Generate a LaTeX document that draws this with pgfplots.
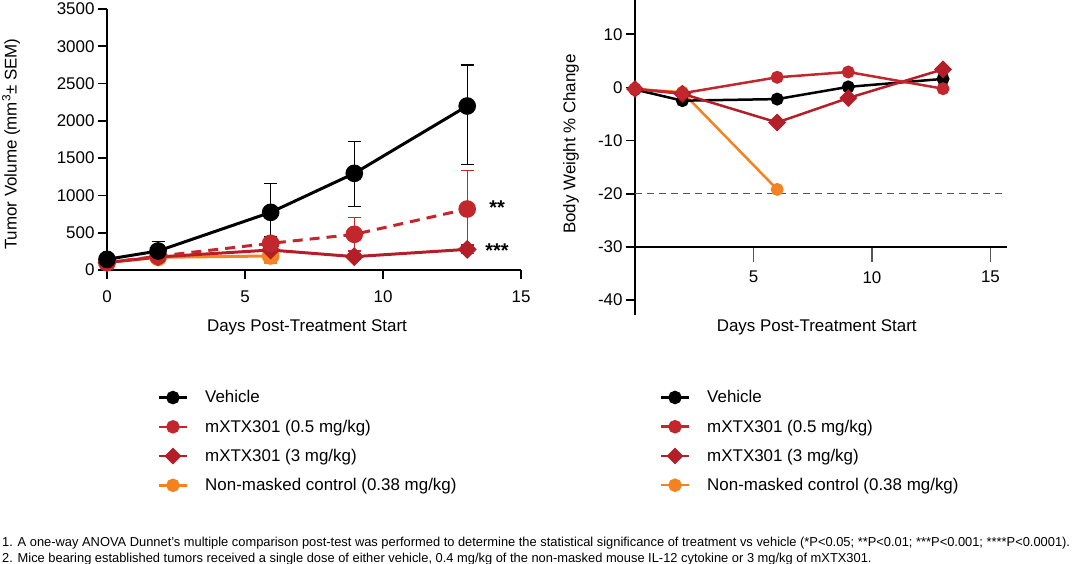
\documentclass[border=0pt]{standalone}
\usepackage{pgfplots}
\pgfplotsset{compat=1.18}
\usepackage{fontspec}
\setmainfont{Liberation Sans}
\usepackage{graphicx}

\definecolor{cred}{RGB}{193,39,45}
\definecolor{dred}{RGB}{180,30,40}
\definecolor{corange}{RGB}{245,130,32}
\definecolor{refgray}{RGB}{85,85,85}

\newcommand\mainfs{\fontsize{17}{20}\selectfont}
\newcommand\fnfs{\fontsize{13}{15}\selectfont}
\newcommand\fnone{1. A one-way ANOVA Dunnet’s multiple comparison post-test was performed to determine the statistical significance of treatment vs vehicle (*P<0.05; **P<0.01; ***P<0.001; ****P<0.0001).}
\newcommand\fntwo{2. Mice bearing established tumors received a single dose of either vehicle, 0.4 mg/kg of the non-masked mouse IL-12 cytokine or 3 mg/kg of mXTX301.}
\newlength\fnw

\pgfplotsset{
  base/.style={
    scale only axis,
    clip=false,
    font=\mainfs,
    axis line style={line width=1.6bp, black},
    tick style={line width=1.6bp, black},
    tick align=outside,
    major tick length=9bp,
  },
  ebar/.style={
    error bars/.cd, y dir=both, y explicit,
    error bar style={solid, line width=1.3bp, #1},
    error mark options={solid, rotate=90, mark size=6.5bp, line width=1.3bp, #1},
  },
  lgd/.style={
    legend cell align=left,
    legend style={draw=none, fill=none, font=\mainfs, inner sep=0pt,
      row sep=11.5bp, column sep=15bp, anchor=north west},
    legend image code/.code={\draw[mark repeat=2, mark phase=2, line width=2.5bp, ##1]
      plot coordinates {(0bp,0bp) (14bp,0bp) (28bp,0bp)};},
  },
}

\begin{document}
\settowidth\fnw{\fnfs\fnone}%
\pgfmathsetmacro\fnsx{1068bp/\fnw}%
\begin{tikzpicture}
\useasboundingbox (0,0) rectangle (1072bp,564bp);

% ---------------- tumour volume ----------------
\begin{axis}[base, lgd,
  at={(107bp,294bp)}, anchor=south west,
  width=414bp, height=261bp,
  xmin=0, xmax=15, ymin=0, ymax=3500,
  axis lines*=left,
  xtick={0,5,10,15}, xticklabels={0,5,10,15},
  xticklabel style={yshift=-8bp},
  ytick={0,500,1000,1500,2000,2500,3000,3500},
  yticklabels={0,500,1000,1500,2000,2500,3000,3500},
  legend style={at={(0.122,-0.454)}},
]
\addplot[corange, line width=3bp, mark=*, mark size=7.3bp, forget plot, ebar=corange]
  coordinates {(0,100) +- (0,15) (1.85,170) +- (0,30) (5.93,188) +- (0,95)};
\addplot[dred, line width=3bp, mark=square*, mark options={rotate=45}, mark size=5.2bp, forget plot, ebar=dred]
  coordinates {(0,100) +- (0,15) (1.85,175) +- (0,35) (5.93,268) +- (0,60) (8.96,179) +- (0,40) (13.05,277) +- (0,60)};
\addplot[cred, line width=3bp, dash pattern=on 10bp off 7bp, mark=*, mark size=7.3bp, mark options={solid}, forget plot, ebar=cred]
  coordinates {(0,98) +- (0,15) (1.85,185) +- (0,40) (5.93,358) +- (0,60) (8.96,478) +- (0,223) (13.05,818) +- (0,514)};
\addplot[black, line width=3bp, mark=*, mark size=7.3bp, forget plot, ebar=black]
  coordinates {(0,143) +- (0,20) (1.85,255) +- (0,125) (5.93,773) += (0,390) -= (0,326)
               (8.96,1296) += (0,425) -= (0,447) (13.05,2199) += (0,550) -= (0,782)};

\addlegendimage{black, mark=*, mark size=5.5bp}
\addlegendentry{Vehicle}
\addlegendimage{cred, mark=*, mark size=5.5bp}
\addlegendentry{mXTX301 (0.5 mg/kg)}
\addlegendimage{dred, mark=square*, mark options={rotate=45}, mark size=4.7bp}
\addlegendentry{mXTX301 (3 mg/kg)}
\addlegendimage{corange, mark=*, mark size=5.5bp}
\addlegendentry{Non-masked control (0.38 mg/kg)}
\end{axis}

% ---------------- body weight: y axis ----------------
\begin{axis}[base, lgd,
  at={(635bp,249bp)}, anchor=south west,
  width=372bp, height=315bp,
  xmin=0, xmax=15.7, ymin=-42.8, ymax=16.45,
  axis y line*=left, axis x line=none,
  xtick=\empty,
  ytick={-40,-30,-20,-10,0,10},
  yticklabels={-40,-30,-20,-10,0,10},
  legend style={at={(0.066,-0.233)}},
]
\addlegendimage{black, mark=*, mark size=5.5bp}
\addlegendentry{Vehicle}
\addlegendimage{cred, mark=*, mark size=5.5bp}
\addlegendentry{mXTX301 (0.5 mg/kg)}
\addlegendimage{dred, mark=square*, mark options={rotate=45}, mark size=4.7bp}
\addlegendentry{mXTX301 (3 mg/kg)}
\addlegendimage{corange, mark=*, mark size=5.5bp}
\addlegendentry{Non-masked control (0.38 mg/kg)}
\end{axis}

% ---------------- body weight: data and x axis ----------------
\begin{axis}[base,
  at={(635bp,317.2bp)}, anchor=south west,
  width=372bp, height=246.8bp,
  xmin=0, xmax=15.7, ymin=-30, ymax=16.45,
  axis x line*=bottom, axis y line=none,
  ytick=\empty,
  xtick={5,10,15}, xticklabels={5,10,15},
  xticklabel style={yshift=-6bp},
  major tick length=15bp,
  xtick style={line width=1.3bp, refgray},
]
\addplot[refgray, line width=1bp, dash pattern=on 7bp off 5bp] coordinates {(0,-20) (15.7,-20)};
\addplot[corange, line width=2.5bp, mark=*, mark size=5.2bp] coordinates {(0,-0.3) (2,-0.9) (6,-19.2)};
\addplot[black, line width=2.5bp, mark=*, mark size=5.2bp] coordinates {(0,-0.4) (2,-2.5) (6,-2.2) (9,0.1) (13,1.6)};
\addplot[dred, line width=2.5bp, mark=square*, mark options={rotate=45}, mark size=5.1bp] coordinates {(0,-0.3) (2,-1.2) (6,-6.6) (9,-2.0) (13,3.4)};
\addplot[cred, line width=2.5bp, mark=*, mark size=5.2bp] coordinates {(0,-0.3) (2,-1.1) (6,1.9) (9,2.9) (13,-0.25)};
\end{axis}

% ---------------- labels ----------------
\node[font=\mainfs] at (307bp,237bp) {Days Post-Treatment Start};
\node[font=\mainfs] at (816.7bp,236.7bp) {Days Post-Treatment Start};
\node[font=\mainfs, rotate=90] at (11bp,419.8bp) {Tumor Volume (mm\textsuperscript{3}± SEM)};
\node[font=\mainfs, rotate=90] at (571bp,419.8bp) {Body Weight \% Change};
\node[font=\fontsize{20}{22}\selectfont\bfseries, anchor=base] at (497bp,349.5bp) {**};
\node[font=\fontsize{20}{22}\selectfont\bfseries, anchor=base] at (497bp,306bp) {***};

% ---------------- footnotes ----------------
\node[anchor=base west, inner sep=0pt, font=\fnfs] at (2bp,17.3bp) {\scalebox{\fnsx}[1]{\fnone}};
\node[anchor=base west, inner sep=0pt, font=\fnfs] at (2bp,1.7bp) {\scalebox{\fnsx}[1]{\fntwo}};
\end{tikzpicture}
\end{document}
